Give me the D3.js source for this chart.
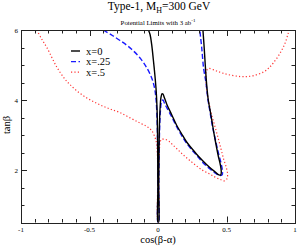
<!DOCTYPE html>
<html>
<head>
<meta charset="utf-8">
<script src="https://d3js.org/d3.v7.min.js"></script>
<style>
	body { margin: 0; background: #fff; }
	text { font-family: "Liberation Serif", "DejaVu Serif", serif; }
</style>
</head>
<body>
<div id="chart"></div>
<script>
// cos(beta-alpha), tan(beta) pairs
var seriesX0 = [[-0.07,6.0],[-0.058,5.87],[-0.046,5.58],[-0.034,5.15],[-0.022,4.68],[-0.013,4.25],[-0.007,3.75],[-0.004,3.2],[-0.002,2.4],[-0.001,1.5],[0,0.5],
	[0.004,0.5],[0.005,1.5],[0.007,2.5],[0.01,3.2],[0.015,3.75],[0.022,4.08],[0.03,4.18],[0.036,4.17],[0.048,4.05],[0.064,3.88],[0.1,3.58],[0.136,3.28],[0.17,3.05],[0.209,2.8],[0.25,2.6],[0.282,2.45],[0.33,2.25],[0.37,2.1],[0.416,1.95],[0.445,1.86],[0.458,1.86],[0.462,1.95],[0.455,2.15],[0.44,2.4],[0.42,2.8],[0.404,3.15],[0.385,3.6],[0.367,4.0],[0.355,4.45],[0.345,5.0],[0.337,5.5],[0.328,6.0]];
var seriesX25 = [[-0.40,6.0],[-0.34,5.86],[-0.277,5.7],[-0.204,5.49],[-0.131,5.2],[-0.082,4.92],[-0.046,4.63],[-0.025,4.34],[-0.014,4.0],[-0.008,3.6],[-0.004,3.0],[-0.002,2.2],[-0.001,1.4],[0,0.5],
	[0.004,0.5],[0.005,1.5],[0.008,2.5],[0.012,3.2],[0.018,3.7],[0.027,3.97],[0.036,4.0],[0.05,3.88],[0.064,3.78],[0.1,3.52],[0.136,3.24],[0.17,3.0],[0.209,2.76],[0.25,2.56],[0.282,2.42],[0.33,2.2],[0.37,2.06],[0.416,1.92],[0.45,1.84],[0.468,1.86],[0.47,1.98],[0.46,2.2],[0.44,2.5],[0.42,2.85],[0.4,3.2],[0.38,3.65],[0.365,4.0],[0.35,4.5],[0.333,4.9],[0.319,5.5],[0.305,6.0]];
var seriesX5 = [[-0.885,6.0],[-0.85,5.75],[-0.81,5.49],[-0.74,4.95],[-0.68,4.6],[-0.642,4.44],[-0.58,4.22],[-0.52,4.06],[-0.46,3.93],[-0.40,3.82],[-0.34,3.73],[-0.277,3.64],[-0.204,3.49],[-0.131,3.34],[-0.08,3.24],[-0.045,3.12],[-0.022,2.93],[-0.01,2.75],[-0.005,2.5],[-0.002,1.8],[0,0.5],
	[0.004,0.5],[0.006,1.8],[0.01,2.5],[0.015,2.78],[0.025,2.87],[0.05,2.88],[0.08,2.82],[0.11,2.71],[0.15,2.56],[0.185,2.43],[0.23,2.28],[0.28,2.12],[0.33,1.98],[0.38,1.88],[0.42,1.79],[0.46,1.72],[0.485,1.69],[0.502,1.74],[0.508,1.88],[0.498,2.08],[0.48,2.3],[0.46,2.6],[0.44,2.9],[0.415,3.25],[0.39,3.6],[0.37,3.95],[0.355,4.3],[0.35,4.6],[0.352,4.82],[0.37,4.9],[0.42,4.84],[0.47,4.77],[0.53,4.71],[0.6,4.67],[0.65,4.67],[0.7,4.7],[0.77,4.8],[0.81,4.92],[0.84,5.05],[0.89,5.33],[0.927,5.62],[0.95,5.9],[0.958,6.0]];

var legendLabels = ["x=0", "x=.25", "x=.5"];
var xMajor = [-1, -0.5, 0, 0.5, 1];
var xTickLabels = ["-1", "-0.5", "0", "0.5", "1"];
var yMajor = [2, 4, 6];
var yTickLabels = ["2", "4", "6"];

var width = 299, height = 246;
var margin = {top: 30, right: 4, bottom: 23.5, left: 21};

var svg = d3.select("#chart").append("svg")
	.attr("width", width)
	.attr("height", height);

var x = d3.scaleLinear().domain([-1, 1]).range([margin.left, width - margin.right]);
var y = d3.scaleLinear().domain([0.5, 6]).range([height - margin.bottom, margin.top]);

var xMinor = d3.range(-10, 11).map(function(i) { return i / 10; }).filter(function(v) { return xMajor.indexOf(v) < 0; });
var yMinor = d3.range(1, 12).map(function(i) { return i / 2; }).filter(function(v) { return yMajor.indexOf(v) < 0; });

// clip for curves
svg.append("clipPath").attr("id", "clip")
	.append("rect")
	.attr("x", x(-1)).attr("y", y(6))
	.attr("width", x(1) - x(-1)).attr("height", y(0.5) - y(6));

var styles = [
	{color: "#000", dash: null, w: 1.4},
	{color: "#1a1aff", dash: "5,2.5", w: 1.4},
	{color: "#ff3333", dash: "1.2,2.2", w: 1.2}
];

var line = d3.line()
	.x(function(d) { return x(d[0]); })
	.y(function(d) { return y(d[1]); })
	.curve(d3.curveCatmullRom.alpha(0.5));

var curves = svg.append("g").attr("clip-path", "url(#clip)");
[seriesX5, seriesX25, seriesX0].forEach(function(s, i) {
	var st = styles[2 - i];
	curves.append("path")
		.attr("d", line(s))
		.attr("fill", "none")
		.attr("stroke", st.color)
		.attr("stroke-width", st.w)
		.attr("stroke-dasharray", st.dash);
});

// axes, ticks on all sides pointing in
var axes = svg.append("g").attr("stroke", "#222").attr("stroke-width", 1);
function tickLen(major) { return major ? 6 : 3.5; }

xMajor.concat(xMinor).forEach(function(v) {
	var major = xMajor.indexOf(v) >= 0;
	var px = Math.round(x(v)) + 0.5;
	axes.append("line").attr("x1", px).attr("x2", px)
		.attr("y1", y(0.5)).attr("y2", y(0.5) - tickLen(major));
	axes.append("line").attr("x1", px).attr("x2", px)
		.attr("y1", y(6)).attr("y2", y(6) + tickLen(major));
});
yMajor.concat(yMinor).forEach(function(v) {
	var major = yMajor.indexOf(v) >= 0;
	var py = Math.round(y(v)) + 0.5;
	axes.append("line").attr("y1", py).attr("y2", py)
		.attr("x1", x(-1)).attr("x2", x(-1) + tickLen(major));
	axes.append("line").attr("y1", py).attr("y2", py)
		.attr("x1", x(1)).attr("x2", x(1) - tickLen(major));
});
axes.append("rect")
	.attr("x", Math.round(x(-1)) + 0.5).attr("y", Math.round(y(6)) + 0.5)
	.attr("width", Math.round(x(1) - x(-1))).attr("height", Math.round(y(0.5) - y(6)))
	.attr("fill", "none");

svg.append("g").selectAll("text").data(xMajor).enter().append("text")
	.attr("x", function(d) { return x(d); })
	.attr("y", y(0.5) + 9)
	.attr("text-anchor", "middle")
	.attr("font-size", 7)
	.text(function(d, i) { return xTickLabels[i]; });

svg.append("g").selectAll("text").data(yMajor).enter().append("text")
	.attr("x", x(-1) - 3)
	.attr("y", function(d) { return y(d) + 2.5; })
	.attr("text-anchor", "end")
	.attr("font-size", 7)
	.text(function(d, i) { return yTickLabels[i]; });

// titles
var title = svg.append("text")
	.attr("x", 159).attr("y", 10)
	.attr("text-anchor", "middle")
	.attr("font-size", 11.5);
title.append("tspan").text("Type-1, M");
title.append("tspan").attr("font-size", 8).attr("dy", 2.5).text("H");
title.append("tspan").attr("dy", -2.5).text("=300 GeV");

var sub = svg.append("text")
	.attr("x", 158).attr("y", 25)
	.attr("text-anchor", "middle")
	.attr("font-size", 6.8);
sub.append("tspan").text("Potential Limits with 3 ab");
sub.append("tspan").attr("font-size", 5).attr("dy", -3).text("-1");

svg.append("text")
	.attr("x", 158).attr("y", 243)
	.attr("text-anchor", "middle")
	.attr("font-size", 10.5)
	.text("cos(\u03b2-\u03b1)");

svg.append("text")
	.attr("transform", "translate(10,125) rotate(-90)")
	.attr("text-anchor", "middle")
	.attr("font-size", 10.5)
	.text("tan\u03b2");

// legend
var legend = svg.append("g");
legendLabels.forEach(function(lab, i) {
	var ly = 51 + i * 10.6;
	var st = styles[i];
	legend.append("line")
		.attr("x1", 71).attr("x2", 80)
		.attr("y1", ly).attr("y2", ly)
		.attr("stroke", st.color)
		.attr("stroke-width", st.w)
		.attr("stroke-dasharray", st.dash);
	legend.append("text")
		.attr("x", 86).attr("y", ly + 3.5)
		.attr("font-size", 10.5)
		.text(lab);
});
</script>
</body>
</html>
